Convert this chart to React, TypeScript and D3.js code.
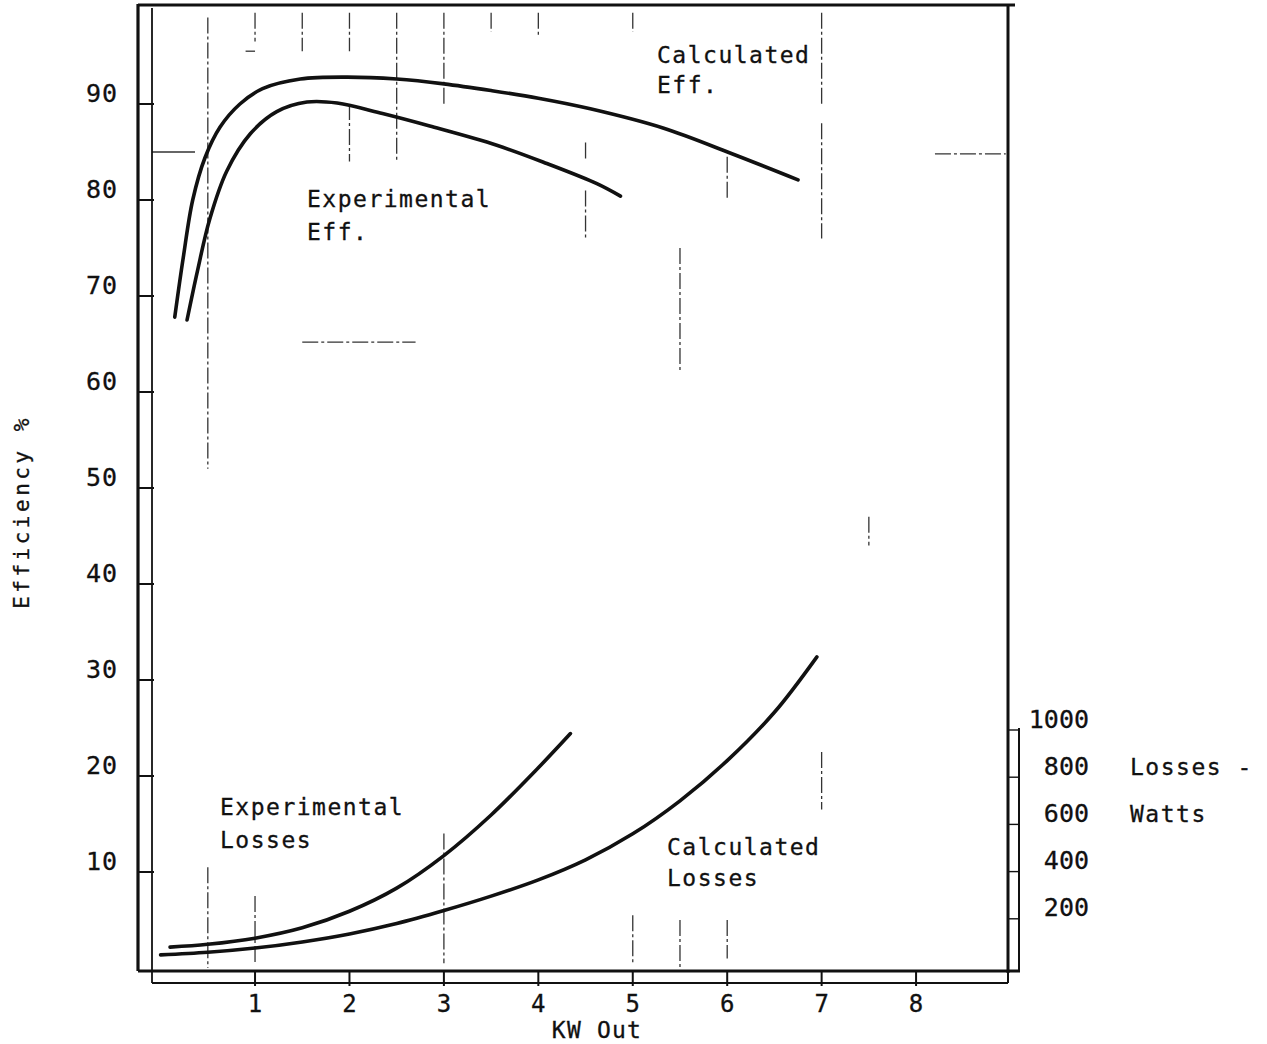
import React from "react";
import * as d3 from "d3";

// values
const kwTicks = [1, 2, 3, 4, 5, 6, 7, 8];
const effTicks = [10, 20, 30, 40, 50, 60, 70, 80, 90];
const lossTicks = [200, 400, 600, 800, 1000];

// [kW out, efficiency %]
const calcEff = [
  [0.15, 67.8], [0.24, 74.0], [0.34, 80.0], [0.47, 84.4], [0.63, 87.6], [0.84, 90.0],
  [1.08, 91.6], [1.48, 92.6], [1.97, 92.8], [2.5, 92.6], [3.0, 92.1], [3.5, 91.4],
  [4.0, 90.6], [4.55, 89.5], [5.32, 87.5], [6.03, 84.9], [6.75, 82.1],
];
const expEff = [
  [0.28, 67.5], [0.39, 72.6], [0.52, 78.0], [0.7, 83.0], [0.95, 86.9], [1.23, 89.2],
  [1.55, 90.2], [1.87, 90.1], [2.35, 89.0], [2.85, 87.7], [3.56, 85.7], [4.09, 83.8],
  [4.62, 81.7], [4.87, 80.4],
];

// [kW out, losses W]
const calcLoss = [
  [0, 47], [0.5, 58], [1, 76], [1.5, 102], [2, 136], [2.5, 180], [3, 235], [3.5, 296],
  [4, 365], [4.5, 450], [5, 560], [5.5, 700], [6, 870], [6.5, 1075], [6.95, 1310],
];
const expLoss = [
  [0.1, 80], [0.5, 92], [1, 118], [1.5, 162], [2, 232], [2.5, 330], [3, 468],
  [3.5, 640], [4, 840], [4.34, 985],
];

// faded grid remnants left on the scan: [kW, eff from, eff to]
const gridBits = [
  [0.5, 99, 52], [0.5, 10.5, 0], [1, 99.5, 96.5], [1, 7.5, 0.5], [1.5, 99.5, 95.5],
  [2, 99.5, 95.5], [2, 90, 84], [2.5, 99.5, 84], [3, 99.5, 90], [3, 14, 0.5],
  [3.5, 99.5, 97.5], [4, 99.5, 97], [4.5, 86, 84], [4.5, 81, 76], [5, 99.5, 97.5],
  [5, 5.5, 0.5], [5.5, 75, 62], [5.5, 5, 0], [6, 84.5, 80], [6, 5, 1],
  [7, 99.5, 90], [7, 88, 76], [7, 22.5, 16.5], [7.5, 47, 44],
];

const W = 1267;
const H = 1044;
const font = "'DejaVu Sans Mono', monospace";
const ink = "#111";

const x = d3.scaleLinear().domain([0, 9]).range([160.6, 1010.5]);
const yEff = d3.scaleLinear().domain([0, 100]).range([968, 8]);
const yLoss = d3.scaleLinear().domain([0, 1000]).range([966, 730]);

const effLine = d3.line<number[]>()
  .x((d) => x(d[0]))
  .y((d) => yEff(d[1]))
  .curve(d3.curveCatmullRom.alpha(0.5));
const lossLine = d3.line<number[]>()
  .x((d) => x(d[0]))
  .y((d) => yLoss(d[1]))
  .curve(d3.curveCatmullRom.alpha(0.5));

const App = () => {
  const left = 138;
  const inner = 152;
  const top = 5;
  const right = 1008;
  const bottom = 971;
  const bottomInner = 983;
  const lossAxis = 1019;

  return (
    <svg
      width={W}
      height={H}
      style={{ position: "absolute", left: 0, top: 0, background: "#fff" }}
    >
      {/* scan grid remnants */}
      <g stroke={ink} strokeWidth={1.3} strokeDasharray="16 3 3 3" opacity={0.85}>
        {gridBits.map((g, i) => (
          <line key={i} x1={x(g[0])} x2={x(g[0])} y1={yEff(g[1])} y2={yEff(g[2])} />
        ))}
        <line x1={inner} x2={195} y1={yEff(85)} y2={yEff(85)} strokeDasharray="none" />
        <line x1={x(0.9)} x2={x(1)} y1={yEff(95.5)} y2={yEff(95.5)} />
        <line x1={x(1.5)} x2={x(2.7)} y1={yEff(65.2)} y2={yEff(65.2)} />
        <line x1={x(8.2)} x2={x(8.95)} y1={yEff(84.8)} y2={yEff(84.8)} />
      </g>

      {/* frame */}
      <g stroke={ink} fill="none">
        <line x1={left} x2={left} y1={top - 1} y2={bottom} strokeWidth={3.2} />
        <line x1={left} x2={1015} y1={top} y2={top} strokeWidth={3.2} />
        <line x1={right} x2={right} y1={top} y2={bottom + 2} strokeWidth={3} />
        <line x1={left} x2={lossAxis + 1} y1={bottom} y2={bottom} strokeWidth={3} />
        <line x1={inner} x2={inner} y1={top + 3} y2={bottomInner} strokeWidth={1.8} />
        <line x1={inner} x2={right} y1={bottomInner} y2={bottomInner} strokeWidth={2} />
        <line x1={right} x2={right} y1={bottom} y2={bottomInner} strokeWidth={2} />
        <line x1={lossAxis} x2={lossAxis} y1={yLoss(1000) - 2} y2={bottom} strokeWidth={2} />
      </g>

      {/* efficiency axis */}
      <g>
        {effTicks.map((t) => (
          <g key={t}>
            <line x1={left} x2={inner + 2} y1={yEff(t)} y2={yEff(t)} stroke={ink} strokeWidth={2} />
            <text
              x={118}
              y={yEff(t) - 11}
              dominantBaseline="central"
              textAnchor="end"
              fontFamily={font}
              fontSize={25}
              letterSpacing={1}
              fill={ink}
              stroke={ink}
              strokeWidth={0.3}
            >
              {t}
            </text>
          </g>
        ))}
        <text
          transform={`translate(22,${512}) rotate(-90)`}
          textAnchor="middle"
          dominantBaseline="central"
          fontFamily={font}
          fontSize={21}
          letterSpacing={3.5}
          fill={ink}
          stroke={ink}
          strokeWidth={0.3}
        >
          Efficiency %
        </text>
      </g>

      {/* kW axis */}
      <g>
        {kwTicks.map((t) => (
          <g key={t}>
            <line x1={x(t)} x2={x(t)} y1={bottom} y2={bottomInner + 3} stroke={ink} strokeWidth={2} />
            <text
              x={x(t)}
              y={1004}
              textAnchor="middle"
              dominantBaseline="central"
              fontFamily={font}
              fontSize={24}
              fill={ink}
              stroke={ink}
              strokeWidth={0.3}
            >
              {t}
            </text>
          </g>
        ))}
        <text
          x={597}
          y={1038}
          textAnchor="middle"
          fontFamily={font}
          fontSize={23}
          letterSpacing={1.2}
          fill={ink}
          stroke={ink}
          strokeWidth={0.3}
        >
          KW Out
        </text>
      </g>

      {/* losses axis */}
      <g>
        {lossTicks.map((t) => (
          <g key={t}>
            <line x1={right} x2={lossAxis} y1={yLoss(t)} y2={yLoss(t)} stroke={ink} strokeWidth={1.4} />
            <text
              x={1089}
              y={yLoss(t) - 11}
              textAnchor="end"
              dominantBaseline="central"
              fontFamily={font}
              fontSize={25}
              fill={ink}
              stroke={ink}
              strokeWidth={0.3}
            >
              {t}
            </text>
          </g>
        ))}
        <g fontFamily={font} fontSize={23} letterSpacing={1.5} fill={ink} stroke={ink} strokeWidth={0.3}>
          <text x={1130} y={775}>Losses -</text>
          <text x={1130} y={822}>Watts</text>
        </g>
      </g>

      {/* curves */}
      <g fill="none" stroke={ink} strokeWidth={3.6} strokeLinecap="round" strokeLinejoin="round">
        <path d={effLine(calcEff) || ""} />
        <path d={effLine(expEff) || ""} />
        <path d={lossLine(calcLoss) || ""} />
        <path d={lossLine(expLoss) || ""} />
      </g>

      {/* curve labels */}
      <g fontFamily={font} fontSize={23} letterSpacing={1.5} fill={ink} stroke={ink} strokeWidth={0.3}>
        <text x={657} y={63}>Calculated</text>
        <text x={657} y={93}>Eff.</text>
        <text x={307} y={207}>Experimental</text>
        <text x={307} y={240}>Eff.</text>
        <text x={220} y={815}>Experimental</text>
        <text x={220} y={848}>Losses</text>
        <text x={667} y={855}>Calculated</text>
        <text x={667} y={886}>Losses</text>
      </g>
    </svg>
  );
};

export default App;
